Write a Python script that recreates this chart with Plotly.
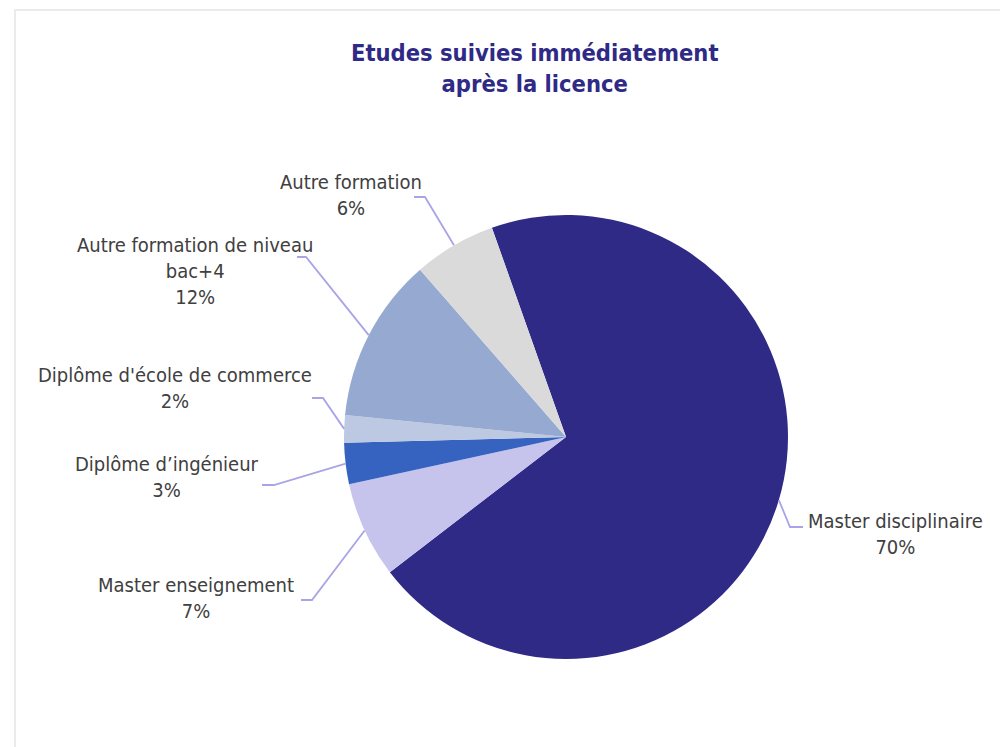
import math
import plotly.graph_objects as go

# Survey data: studies followed right after the licence
categories = [
    "Master disciplinaire",
    "Master enseignement",
    "Diplôme d’ingénieur",
    "Diplôme d'école de commerce",
    "Autre formation de niveau<br>bac+4",
    "Autre formation",
]
shares = [70, 7, 3, 2, 12, 6]
pct_labels = ["70%", "7%", "3%", "2%", "12%", "6%"]

colors = ["#2F2A86", "#C6C4EC", "#3563BF", "#BDC9E2", "#95A9D1", "#DADADA"]

W, H = 1000, 747
START_ANGLE = -19.5          # degrees clockwise from 12 o'clock
CX, CY, R = 566, 437, 222    # pie centre and radius in pixels

# label text centre and the two-point elbow of each leader line (pixels)
label_layout = [
    dict(text_xy=(895, 534), elbow=[(790, 527), (803, 527)]),
    dict(text_xy=(196, 598), elbow=[(312, 600), (301, 600)]),
    dict(text_xy=(167, 477), elbow=[(274, 485), (262, 485)]),
    dict(text_xy=(175, 388), elbow=[(323, 398), (312, 398)]),
    dict(text_xy=(195, 271), elbow=[(306, 257), (297, 257)]),
    dict(text_xy=(351, 195), elbow=[(425, 197), (414, 197)]),
]

LABEL_FONT = "DejaVu Sans Condensed, DejaVu Sans"


def px(x):
    return x / W


def py(y):
    return 1 - y / H


fig = go.Figure(
    go.Pie(
        values=shares,
        labels=categories,
        sort=False,
        direction="clockwise",
        rotation=START_ANGLE,
        marker=dict(colors=colors, line=dict(width=0)),
        textinfo="none",
        hoverinfo="label+percent",
        showlegend=False,
        domain=dict(x=[px(CX - R), px(CX + R)], y=[py(CY + R), py(CY - R)]),
    )
)

total = sum(shares)
cum = 0
shapes = []
annotations = []
for cat, val, pct, lay in zip(categories, shares, pct_labels, label_layout):
    mid = START_ANGLE + (cum + val / 2) / total * 360
    cum += val
    a = math.radians(mid)
    ex, ey = CX + R * math.sin(a), CY - R * math.cos(a)
    pts = [(ex, ey)] + lay["elbow"]
    path = "M " + " L ".join(f"{px(x):.5f},{py(y):.5f}" for x, y in pts)
    shapes.append(dict(type="path", xref="paper", yref="paper", path=path,
                       line=dict(color="#A9A4E6", width=1.8)))
    tx, ty = lay["text_xy"]
    annotations.append(dict(
        x=px(tx), y=py(ty), xref="paper", yref="paper",
        text=f"{cat}<br>{pct}", showarrow=False,
        xanchor="center", yanchor="middle", align="center",
        font=dict(family=LABEL_FONT, size=20, color="#404040"),
    ))

# chart title
annotations.append(dict(
    x=px(535), y=py(68), xref="paper", yref="paper",
    text="<b>Etudes suivies immédiatement<br>après la licence</b>",
    showarrow=False, xanchor="center", yanchor="middle", align="center",
    font=dict(family=LABEL_FONT, size=23.5, color="#2F2A86"),
))

# thin frame along the top and left edges
shapes.append(dict(type="line", xref="paper", yref="paper",
                   x0=px(14), x1=1, y0=py(10), y1=py(10),
                   line=dict(color="#EBEBEB", width=2)))
shapes.append(dict(type="line", xref="paper", yref="paper",
                   x0=px(15), x1=px(15), y0=py(10), y1=0,
                   line=dict(color="#EBEBEB", width=2)))

fig.update_layout(
    width=W, height=H,
    margin=dict(l=0, r=0, t=0, b=0),
    paper_bgcolor="white",
    plot_bgcolor="white",
    shapes=shapes,
    annotations=annotations,
)

fig.write_html("out.html")
